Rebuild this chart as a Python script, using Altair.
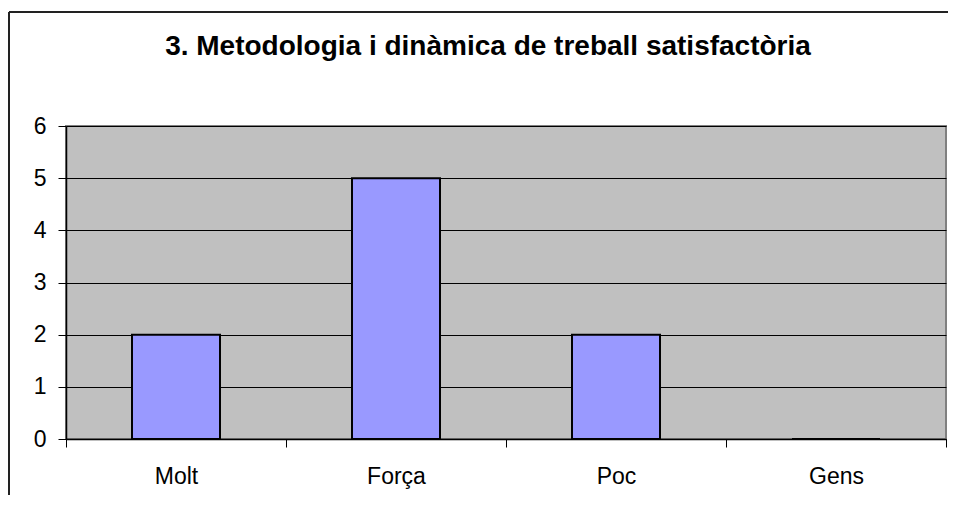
import altair as alt
import pandas as pd

categories = ["Molt", "Força", "Poc", "Gens"]
values = [2, 5, 2, 0]
title_text = "3. Metodologia i dinàmica de treball satisfactòria"

df = pd.DataFrame({"cat": categories, "val": values})

FONT = "Liberation Sans"

bars = alt.Chart(df).mark_bar(
    width=alt.RelativeBandSize(0.4), color="#9999FF", stroke="black", strokeWidth=2
).encode(
    x=alt.X("cat:N", sort=categories, title=None,
            scale=alt.Scale(paddingInner=0, paddingOuter=0),
            axis=alt.Axis(labelAngle=0, tickBand="extent", tickSize=8, tickColor="black",
                          domainColor="black", domainWidth=1.5, labelFontSize=23,
                          labelFont=FONT, labelColor="black", labelPadding=18,
                          labelFontWeight="normal")),
    y=alt.Y("val:Q", title=None,
            scale=alt.Scale(domain=[0, 6], nice=False, zero=True),
            axis=alt.Axis(values=[0, 1, 2, 3, 4, 5, 6], tickSize=8, tickColor="black",
                          domainColor="black", domainWidth=1.5, gridColor="black",
                          gridWidth=1, gridOpacity=1, labelFontSize=23, labelFont=FONT,
                          labelColor="black", labelPadding=12)),
)

frame_left = alt.Chart(df).mark_rule(color="#222222", strokeWidth=1.5).encode(
    x=alt.value(-57), y=alt.value(-114), y2=alt.value(420)
)
frame_top = alt.Chart(df).mark_rule(color="#222222", strokeWidth=1.5).encode(
    x=alt.value(-57), x2=alt.value(950), y=alt.value(-114)
)

chart = alt.layer(bars, frame_left, frame_top).properties(
    width=880, height=313,
    title=alt.TitleParams(title_text, fontSize=28, font=FONT, fontWeight="bold",
                          color="black", anchor="middle", frame="group",
                          baseline="alphabetic", dx=-18, offset=-72),
    autosize=alt.AutoSizeParams(type="none"),
    padding={"left": 58, "top": 118, "right": 2, "bottom": 56},
    background="white",
).configure_view(
    fill="#C0C0C0", stroke="#808080", strokeWidth=2
)

chart.save("out.html", embed_options={"renderer": "svg", "actions": False})
